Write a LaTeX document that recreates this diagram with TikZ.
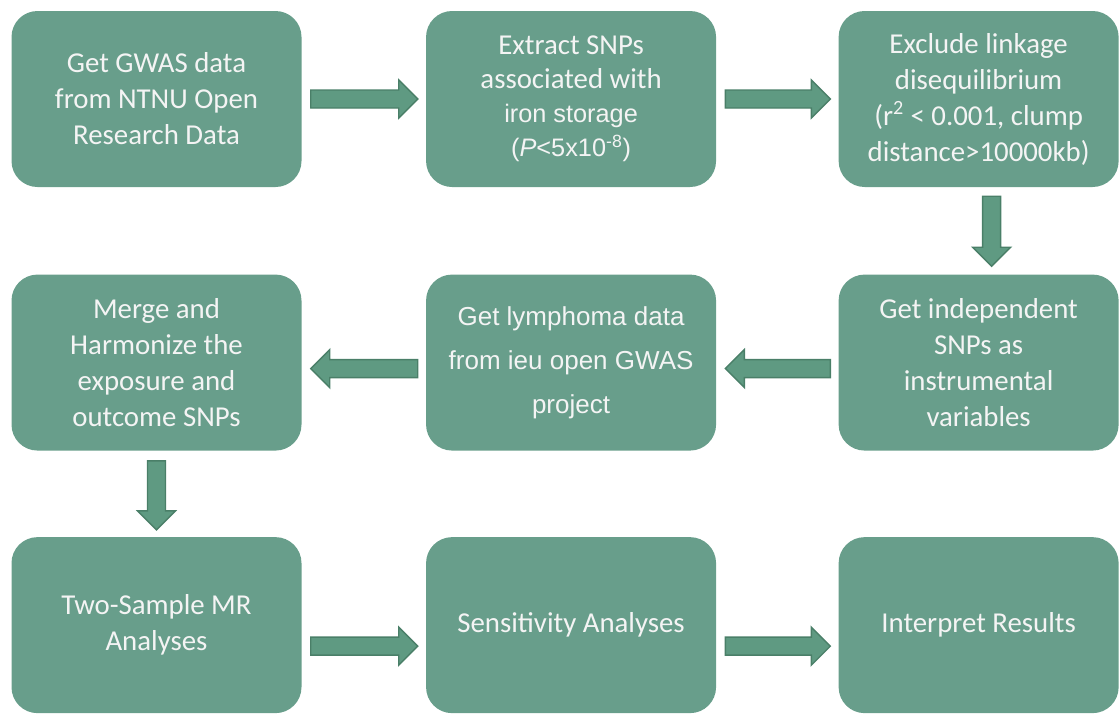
\documentclass[tikz,border=0pt]{standalone}
\usepackage{fontspec}
\setmainfont{Carlito}
\newfontfamily\arialfont{Liberation Sans}
\usetikzlibrary{positioning,calc}
\definecolor{boxgreen}{HTML}{689E8B}
\definecolor{arrowfill}{HTML}{5F9A82}
\definecolor{arrowline}{HTML}{4A7F68}
\definecolor{boxtext}{HTML}{F4F4F4}

\begin{document}
\begin{tikzpicture}[
  node distance=2.175cm and 3.1cm,
  box/.style={fill=boxgreen, rounded corners=0.65cm, minimum width=7.25cm,
              minimum height=4.4cm, inner sep=4pt, text=boxtext, align=center,
              font=\fontsize{20.5}{25.6}\selectfont},
  arr/.style={draw=arrowline, fill=arrowfill, line width=1pt, line join=miter,
    to path={
      ($(\tikztostart)!0.225cm!90:(\tikztotarget)$)
      -- ($(\tikztotarget)!0.475cm!(\tikztostart)!0.225cm!90:(\tikztotarget)$)
      -- ($(\tikztotarget)!0.475cm!(\tikztostart)!0.475cm!90:(\tikztotarget)$)
      -- (\tikztotarget)
      -- ($(\tikztotarget)!0.475cm!(\tikztostart)!0.475cm!-90:(\tikztotarget)$)
      -- ($(\tikztotarget)!0.475cm!(\tikztostart)!0.225cm!-90:(\tikztotarget)$)
      -- ($(\tikztostart)!0.225cm!-90:(\tikztotarget)$) -- cycle}},
]
\useasboundingbox (0,0) rectangle (28,-17.825);

\node[box] (gwas) at (3.9125,-2.475) {Get GWAS data\\from NTNU Open\\Research Data};
\node[box, font=\fontsize{20.5}{24.2}\selectfont] (snps) [right=of gwas]
  {Extract SNPs\\associated with\\\arialfont\fontsize{18}{24.2}\selectfont iron storage\\
   \arialfont\fontsize{18}{24.2}\selectfont (\textit{P}<5x10\textsuperscript{-8})};
\node[box, minimum width=7cm] (ld) [right=3.05cm of snps]
  {Exclude linkage\\disequilibrium\\(r\textsuperscript{2} < 0.001, clump\\distance>10000kb)};
\node[box, minimum width=7cm] (indep) [below=of ld]
  {Get independent\\SNPs as\\instrumental\\variables};
\node[box, font=\arialfont\fontsize{18.5}{31.5}\selectfont] (lymph) [left=3.05cm of indep]
  {Get lymphoma data\\from ieu open GWAS\\project};
\node[box] (merge) [left=of lymph]
  {Merge and\\Harmonize the\\exposure and\\outcome SNPs};
\node[box] (mr) [below=2.15cm of merge] {Two-Sample MR\\Analyses};
\node[box] (sens) [right=of mr] {Sensitivity Analyses};
\node[box, minimum width=7cm] (interp) [right=3.05cm of sens] {Interpret Results};

\draw[arr] ([xshift=0.225cm]gwas.east) to ([xshift=-0.2cm]snps.west);
\draw[arr] ([xshift=0.225cm]snps.east) to ([xshift=-0.2cm]ld.west);
\draw[arr] ([shift={(0.325cm,-0.225cm)}]ld.south) to ([shift={(0.325cm,0.2cm)}]indep.north);
\draw[arr] ([shift={(-0.2cm,-0.15cm)}]indep.west) to ([shift={(0.225cm,-0.15cm)}]lymph.east);
\draw[arr] ([shift={(-0.2cm,-0.15cm)}]lymph.west) to ([shift={(0.225cm,-0.15cm)}]merge.east);
\draw[arr] ([yshift=-0.25cm]merge.south) to ([yshift=0.175cm]mr.north);
\draw[arr] ([shift={(0.225cm,-0.525cm)}]mr.east) to ([shift={(-0.2cm,-0.525cm)}]sens.west);
\draw[arr] ([shift={(0.225cm,-0.525cm)}]sens.east) to ([shift={(-0.2cm,-0.525cm)}]interp.west);
\end{tikzpicture}
\end{document}
